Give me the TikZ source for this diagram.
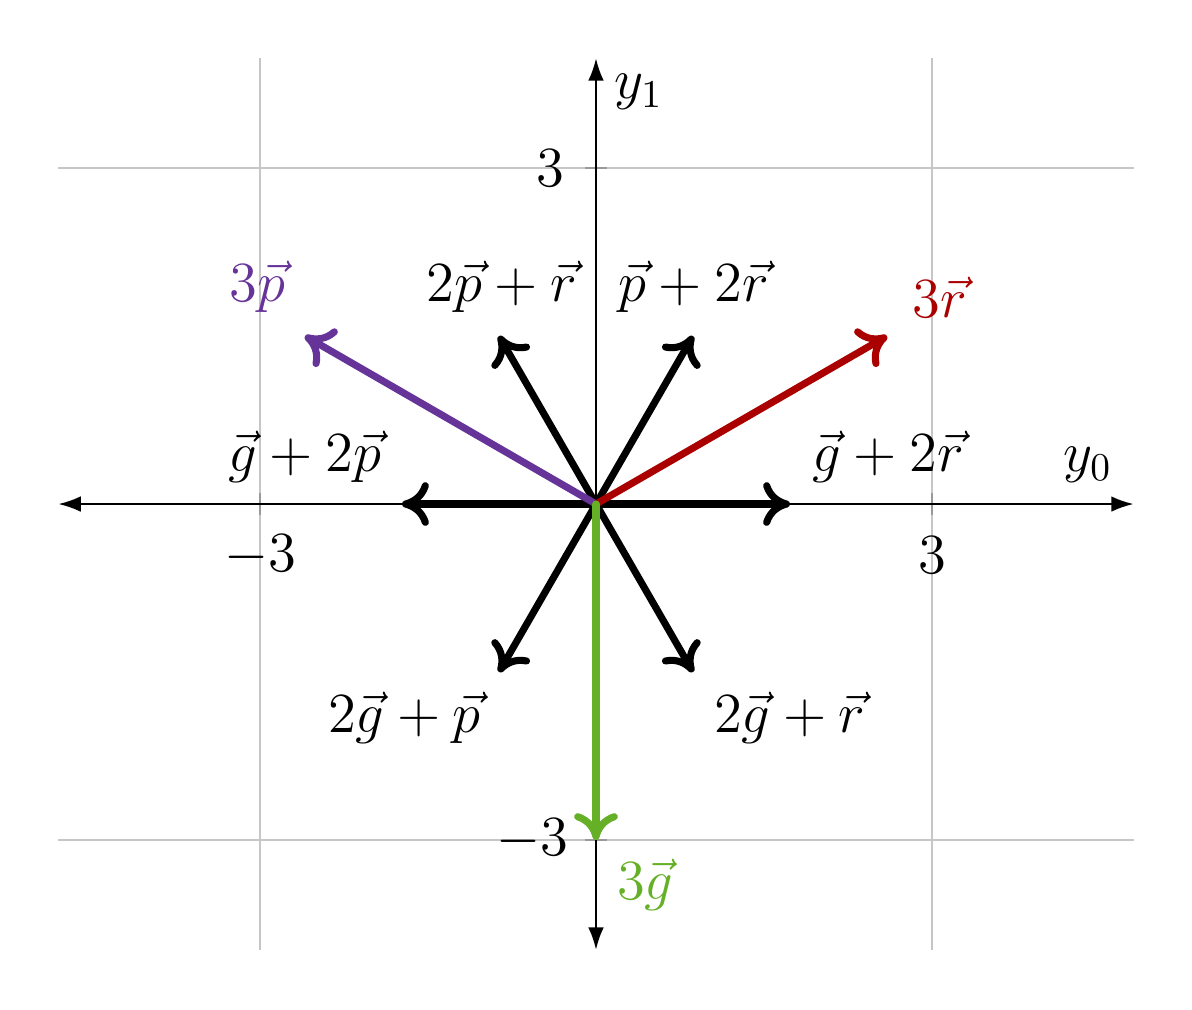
\documentclass[tikz,border=0pt]{standalone}
\usepackage{amsmath}
\usetikzlibrary{arrows.meta}

\definecolor{vred}{RGB}{170,0,0}
\definecolor{vpurple}{RGB}{102,51,153}
\definecolor{vgreen}{RGB}{102,176,40}

\begin{document}
\begin{tikzpicture}[
			every node/.style = {font=\Large},
			axis/.style       = {line width=0.6pt, -{Latex[length=2mm,width=1.4mm]}},
			gridline/.style   = {gray!45, line width=0.3pt},
			tick/.style       = {gray!80, line width=0.4pt},
			vec/.style        = {line width=1.8pt, line cap=round, -{To[length=2.4mm,width=3.9mm,round]}}
			]
			\useasboundingbox (-5.321,-4.509) rectangle (5.321,4.5);
			%--- grid lines at -3 and 3 ---
			\draw[gridline] (-4.8,3) -- (4.8,3);
			\draw[gridline] (-4.8,-3) -- (4.8,-3);
			\draw[gridline] (3,-3.98) -- (3,3.98);
			\draw[gridline] (-3,-3.98) -- (-3,3.98);
			
			%--- ticks ---
			\draw[tick] (-0.1,3) -- (0.1,3);
			\draw[tick] (-0.1,-3) -- (0.1,-3);
			\draw[tick] (3,-0.1) -- (3,0.1);
			\draw[tick] (-3,-0.1) -- (-3,0.1);
			
			%--- axes ---
			\coordinate (o)  at (0,0);
			\coordinate (xl) at (-4.8,0);
			\coordinate (xr) at (4.8,0);
			\coordinate (yb) at (0,-3.98);
			\coordinate (yt) at (0,3.98);
			\draw[axis] (o) -- (xr);
			\draw[axis] (o) -- (xl);
			\draw[axis] (o) -- (yt);
			\draw[axis] (o) -- (yb);
			\node (y0) at (4.39,0.35) {$y_0$};
			\node (y1) at (0.38,3.68) {$y_1$};
			
			%--- tick labels ---
			\node (t1) at (-0.41,3.0)   {$3$};
			\node (t2) at (-0.57,-3.0)  {$-3$};
			\node (t3) at (-3.0,-0.46)  {$-3$};
			\node (t4) at (3.0,-0.46)   {$3$};
			
			%--- end points of the vectors ---
			\coordinate (pp)  at (-2.598,1.5);
			\coordinate (rr)  at (2.598,1.5);
			\coordinate (gg)  at (0,-3);
			\coordinate (ppr) at (-0.866,1.5);
			\coordinate (prr) at (0.866,1.5);
			\coordinate (gpp) at (-1.732,0);
			\coordinate (grr) at (1.732,0);
			\coordinate (ggp) at (-0.866,-1.5);
			\coordinate (ggr) at (0.866,-1.5);
			
			%--- vectors ---
			\draw[vec] (o) -- (ppr);
			\draw[vec] (o) -- (prr);
			\draw[vec] (o) -- (gpp);
			\draw[vec] (o) -- (grr);
			\draw[vec] (o) -- (ggp);
			\draw[vec] (o) -- (ggr);
			\draw[vec, vpurple] (o) -- (pp);
			\draw[vec, vred] (o) -- (rr);
			\draw[vec, vgreen] (o) -- (gg);
			
			%--- labels of the vectors ---
			\node[text=vpurple] (lp)   at (-3.02,1.94) {$3\vec{p}$};
			\node (lppr)               at (-0.84,1.94) {$2\vec{p}+\vec{r}$};
			\node (lprr)               at (0.87,1.94)  {$\vec{p}+2\vec{r}$};
			\node[text=vred] (lr)      at (3.07,1.85)  {$3\vec{r}$};
			\node (lgpp)               at (-2.6,0.42)  {$\vec{g}+2\vec{p}$};
			\node (lgrr)               at (2.61,0.42)  {$\vec{g}+2\vec{r}$};
			\node (lggp)               at (-1.71,-1.91) {$2\vec{g}+\vec{p}$};
			\node (lggr)               at (1.73,-1.91) {$2\vec{g}+\vec{r}$};
			\node[text=vgreen] (lg)    at (0.44,-3.40) {$3\vec{g}$};
		\end{tikzpicture}
\end{document}
